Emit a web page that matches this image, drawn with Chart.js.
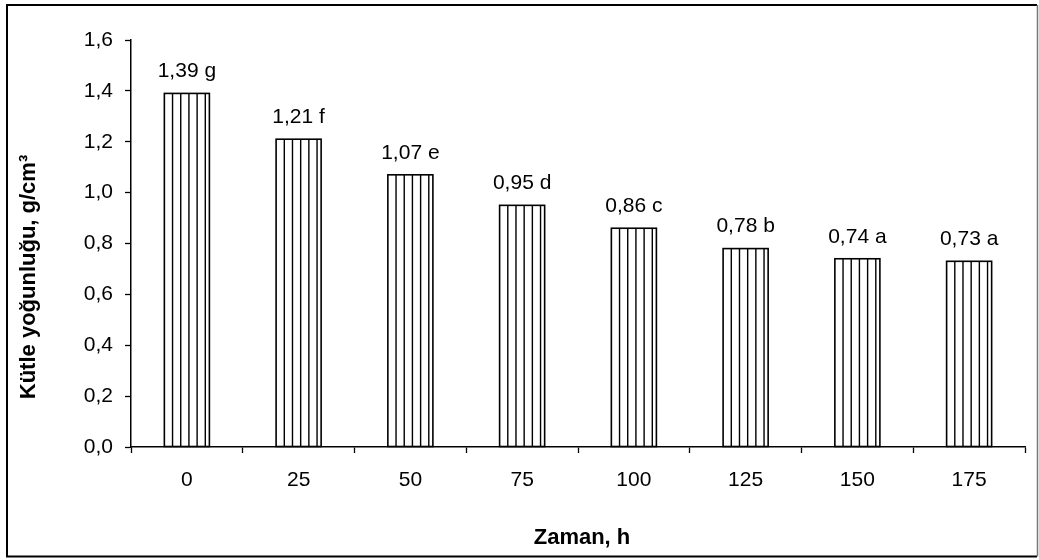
<!DOCTYPE html>
<html>
<head>
<meta charset="utf-8">
<script src="https://cdn.jsdelivr.net/npm/chart.js@4.4.1/dist/chart.umd.min.js"></script>
<style>
  html, body { margin: 0; padding: 0; background: #fff; }
  #wrap { width: 1039px; height: 560px; }
</style>
</head>
<body>
<div id="wrap"><canvas id="c" width="1039" height="560"></canvas></div>
<script>
// Storage time (h) and bulk density (g/cm³) with significance letters
const zamanLabels = ['0', '25', '50', '75', '100', '125', '150', '175'];
const yogunluk = [1.39, 1.21, 1.07, 0.95, 0.86, 0.78, 0.74, 0.73];
const harfler = ['g', 'f', 'e', 'd', 'c', 'b', 'a', 'a'];
const yTicks = [0, 0.2, 0.4, 0.6, 0.8, 1.0, 1.2, 1.4, 1.6];

const FONT = '"Liberation Sans", Arial, Helvetica, sans-serif';
const virgul = (v, d) => v.toFixed(d).replace('.', ',');

// Vertical hatch inside every bar, drawn from the bar elements
const hatchPlugin = {
  id: 'hatch',
  afterDatasetsDraw(chart) {
    const ctx = chart.ctx;
    const meta = chart.getDatasetMeta(0);
    ctx.save();
    ctx.strokeStyle = '#000';
    ctx.lineWidth = 1.4;
    meta.data.forEach(bar => {
      const { x, y, base, width } = bar.getProps(['x', 'y', 'base', 'width'], true);
      const left = x - width / 2;
      const step = width / 5.5;
      ctx.beginPath();
      for (let k = 1; k <= 5; k++) {
        const lx = left + step * k;
        ctx.moveTo(lx, y);
        ctx.lineTo(lx, base);
      }
      ctx.stroke();
      ctx.lineWidth = 1.6;
      ctx.strokeRect(left, y, width, base - y);
      ctx.lineWidth = 1.4;
    });
    ctx.restore();
  }
};

// Value + letter labels above the bars
const labelPlugin = {
  id: 'valueLabels',
  afterDatasetsDraw(chart) {
    const ctx = chart.ctx;
    const meta = chart.getDatasetMeta(0);
    ctx.save();
    ctx.fillStyle = '#000';
    ctx.font = '21px ' + FONT;
    ctx.textAlign = 'center';
    ctx.textBaseline = 'middle';
    meta.data.forEach((bar, i) => {
      const txt = virgul(yogunluk[i], 2) + ' ' + harfler[i];
      ctx.fillText(txt, bar.x, bar.y - 22);
    });
    ctx.restore();
  }
};

// Axis titles and the outer frame
const framePlugin = {
  id: 'frame',
  afterDraw(chart) {
    const ctx = chart.ctx;
    const area = chart.chartArea;
    ctx.save();
    ctx.fillStyle = '#000';
    ctx.font = 'bold 22px ' + FONT;
    ctx.textAlign = 'center';
    ctx.textBaseline = 'middle';
    ctx.fillText('Zaman, h', (area.left + area.right) / 2 + 4, 538);
    ctx.translate(29, 277);
    ctx.rotate(-Math.PI / 2);
    ctx.fillText('Kütle yoğunluğu, g/cm³', 0, 0);
    ctx.restore();

    ctx.save();
    ctx.strokeStyle = '#000';
    ctx.lineWidth = 2;
    ctx.beginPath();
    ctx.moveTo(1037, 5);
    ctx.lineTo(7, 5);
    ctx.lineTo(7, 556.5);
    ctx.lineTo(1037, 556.5);
    ctx.stroke();
    ctx.strokeStyle = '#777';
    ctx.lineWidth = 1.5;
    ctx.beginPath();
    ctx.moveTo(1037.5, 5);
    ctx.lineTo(1037.5, 556.5);
    ctx.stroke();
    ctx.restore();
  }
};

new Chart(document.getElementById('c'), {
  type: 'bar',
  data: {
    labels: zamanLabels,
    datasets: [{
      data: yogunluk,
      backgroundColor: '#fff',
      borderWidth: 0,
      barPercentage: 0.403,
      categoryPercentage: 1.0
    }]
  },
  options: {
    responsive: false,
    animation: false,
    layout: { padding: { top: 40, right: 14, left: 0, bottom: 0 } },
    plugins: {
      legend: { display: false },
      tooltip: { enabled: false }
    },
    scales: {
      x: {
        grid: {
          offset: true,
          drawOnChartArea: false,
          drawTicks: true,
          tickLength: 6,
          tickWidth: 1.3,
          tickColor: '#000'
        },
        border: { display: true, color: '#000', width: 1.5 },
        ticks: {
          color: '#000',
          font: { family: FONT, size: 21 },
          padding: 15,
          maxRotation: 0
        },
        afterFit(scale) { scale.height = 113; }
      },
      y: {
        min: 0,
        max: 1.6,
        afterBuildTicks(scale) { scale.ticks = yTicks.map(v => ({ value: v })); },
        grid: {
          drawOnChartArea: false,
          drawTicks: true,
          tickLength: 6,
          tickWidth: 1.3,
          tickColor: '#000'
        },
        border: { display: true, color: '#000', width: 1.5 },
        ticks: {
          color: '#000',
          font: { family: FONT, size: 21 },
          padding: 12,
          callback: v => virgul(v, 1)
        },
        afterFit(scale) { scale.width = 131; }
      }
    }
  },
  plugins: [hatchPlugin, labelPlugin, framePlugin]
});
</script>
</body>
</html>
